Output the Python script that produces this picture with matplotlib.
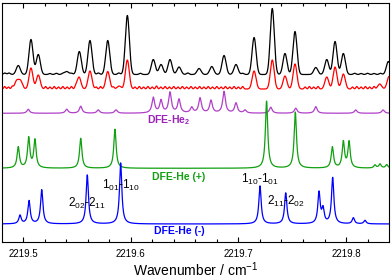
import numpy as np
import matplotlib
matplotlib.use("Agg")
import matplotlib.pyplot as plt
from matplotlib.ticker import MultipleLocator, FormatStrFormatter

plt.rcParams['font.family'] = ['Liberation Sans', 'DejaVu Sans']
plt.rcParams['mathtext.fontset'] = 'custom'
plt.rcParams['mathtext.rm'] = 'Liberation Sans'
plt.rcParams['mathtext.it'] = 'Liberation Sans'
plt.rcParams['mathtext.bf'] = 'Liberation Sans:bold'

# ---------------- data (peak positions in cm-1, heights in a.u.) ----------------
black_pos = [2219.4956, 2219.5074, 2219.5142, 2219.5406, 2219.5523, 2219.5622, 2219.5787,
             2219.5969, 2219.6210, 2219.6282, 2219.6365, 2219.6449, 2219.6635, 2219.6753,
             2219.6867, 2219.6978, 2219.7146, 2219.7315, 2219.7433, 2219.7526, 2219.7719,
             2219.7821, 2219.7898, 2219.7975, 2219.8393]
black_hgt = [9, 35, 20, 3, 23, 34, 34, 59, 15, 10, 15, 7.5, 6, 8, 19, 10, 37,
             66, 21, 43, 7, 15, 33, 21, 13]
black_ripple_pos = [2219.4830, 2219.4870, 2219.5250, 2219.5310, 2219.5370, 2219.5450,
                    2219.5700, 2219.5890, 2219.6090, 2219.6530, 2219.7040, 2219.8080,
                    2219.8140, 2219.8200, 2219.8260, 2219.8320]
black_ripple_hgt = [1.5, 1.5, 1.0, 1.2, 1.0, 1.2, 1.5, 1.5, 1.2, 1.5, 1.2, 1.2, 1.0, 1.2, 1.0, 1.2]

red_pos = [2219.4941, 2219.4977, 2219.5074, 2219.5142, 2219.5520, 2219.5622, 2219.5787,
           2219.5892, 2219.5969, 2219.7146, 2219.7315, 2219.7433, 2219.7526, 2219.7821,
           2219.7898, 2219.7975, 2219.8313, 2219.8399]
red_hgt = [8, 8, 21, 14, 12, 18, 17.5, 3, 29, 18, 29, 13, 25, 12, 22, 15, 5, 12.5]
red_ripple_pos = [2219.4830, 2219.4865, 2219.4900, 2219.5210, 2219.5250, 2219.5290,
                  2219.5330, 2219.5370, 2219.5410, 2219.5450, 2219.5490, 2219.5680,
                  2219.5720, 2219.5840, 2219.6040, 2219.6080, 2219.6120, 2219.6160,
                  2219.6200, 2219.6240, 2219.6280, 2219.6320, 2219.6360, 2219.6400,
                  2219.6440, 2219.6480, 2219.6520, 2219.6560, 2219.6600, 2219.6640,
                  2219.6680, 2219.6720, 2219.6760, 2219.6800, 2219.6840, 2219.6880,
                  2219.6920, 2219.6960, 2219.7000, 2219.7040, 2219.7620, 2219.7660,
                  2219.7700, 2219.7740, 2219.8060, 2219.8100, 2219.8140, 2219.8180,
                  2219.8220, 2219.8260]
red_ripple_hgt = [2.5, 2.0, 2.5, 2.5, 2.0, 2.5, 2.0, 2.5, 2.0, 2.5, 2.0, 2.0, 2.5, 2.0,
                  2.0, 2.5, 2.0, 2.5, 2.0, 3.0, 2.0, 2.5, 2.0, 2.5, 2.0, 2.5, 2.0, 2.5,
                  2.0, 2.5, 2.0, 2.5, 2.0, 2.5, 2.0, 2.5, 2.0, 2.5, 2.0, 2.5, 2.0, 2.5,
                  2.0, 2.5, 2.0, 2.5, 2.0, 2.5, 2.0, 2.5]

he2_pos = [2219.5049, 2219.5406, 2219.5536, 2219.5699, 2219.5864, 2219.6210, 2219.6282,
           2219.6365, 2219.6449, 2219.6567, 2219.6644, 2219.6746, 2219.6867, 2219.6978,
           2219.7062, 2219.7301, 2219.7533, 2219.7719, 2219.8090, 2219.8344]
he2_hgt = [4, 4, 7, 3.3, 3.3, 15.5, 12.5, 20.5, 13.5, 5.5, 15, 12.5, 21.5, 10, 3, 6, 5,
           6.6, 3.3, 3.3]

plus_pos = [2219.4956, 2219.5053, 2219.5111, 2219.5536, 2219.5854, 2219.7262, 2219.7529,
            2219.7873, 2219.7975, 2219.8028, 2219.8269, 2219.8316, 2219.8378]
plus_hgt = [21, 30, 28, 30, 39, 67, 56, 21, 26, 26, 3, 4, 3.5]

minus_pos = [2219.4972, 2219.5056, 2219.5174, 2219.5597, 2219.5907, 2219.7201, 2219.7440,
             2219.7749, 2219.7786, 2219.7876, 2219.8068, 2219.8176]
minus_hgt = [8.5, 23, 34, 49, 61, 38, 31, 31, 14, 46, 6, 3.5]

x_ticks = [2219.5, 2219.6, 2219.7, 2219.8]
x_min, x_max = 2219.4805, 2219.8399

# ---------------- line shapes ----------------
x = np.linspace(x_min, x_max, 4000)

def lorentz(pos, hgt, fwhm):
    y = np.zeros_like(x)
    g = fwhm / 2
    for p, h in zip(pos, hgt):
        y += h * g**2 / ((x - p)**2 + g**2)
    return y

def gauss(pos, hgt, fwhm):
    y = np.zeros_like(x)
    s = fwhm / 2.3548
    for p, h in zip(pos, hgt):
        y += h * np.exp(-0.5 * ((x - p) / s)**2)
    return y

black = gauss(black_pos, black_hgt, 0.0044) + gauss(black_ripple_pos, black_ripple_hgt, 0.0028)
red = gauss(red_pos, red_hgt, 0.0042) + gauss(red_ripple_pos, red_ripple_hgt, 0.0020)
he2 = lorentz(he2_pos, he2_hgt, 0.0030)
plus = lorentz(plus_pos, plus_hgt, 0.0026)
minus = lorentz(minus_pos, minus_hgt, 0.0026)

# ---------------- figure ----------------
fig = plt.figure(figsize=(3.91, 2.79), dpi=100)
ax = fig.add_axes([2/391, 37/279, 387/391, 239/279])

lw = 0.9
ax.plot(x, black + 167.5, color='black', lw=lw)
ax.plot(x, red + 153.0, color='#ff0000', lw=lw)
ax.plot(x, he2 + 128.7, color='#b040c8', lw=lw)
ax.plot(x, plus + 73.7, color='#10a010', lw=lw)
ax.plot(x, minus + 18.0, color='#0000ff', lw=lw)

ax.set_xlim(x_min, x_max)
ax.set_ylim(0, 239)

ax.text(2219.6355, 122, 'DFE-He$_\\mathbf{2}$', color='#9a22b8', fontsize=7.5,
        fontweight='bold', ha='center', va='center')
ax.text(2219.6445, 65, 'DFE-He (+)', color='#10a010', fontsize=7.5,
        fontweight='bold', ha='center', va='center')
ax.text(2219.6455, 11, 'DFE-He (-)', color='#0000ff', fontsize=7.5,
        fontweight='bold', ha='center', va='center')

ann_size = 8.5
ax.text(2219.5597, 39, '2$_{02}$-2$_{11}$', fontsize=ann_size, ha='center', va='center')
ax.text(2219.5907, 57, '1$_{01}$-1$_{10}$', fontsize=ann_size, ha='center', va='center')
ax.text(2219.7201, 63, '1$_{10}$-1$_{01}$', fontsize=ann_size, ha='center', va='center')
ax.text(2219.7440, 41, '2$_{11}$-2$_{02}$', fontsize=ann_size, ha='center', va='center')

ax.xaxis.set_major_locator(MultipleLocator(0.1))
ax.xaxis.set_minor_locator(MultipleLocator(0.02))
ax.set_xticks(x_ticks)
ax.xaxis.set_major_formatter(FormatStrFormatter('%.1f'))
ax.tick_params(axis='x', which='both', direction='in', top=True, bottom=True,
               labelsize=7, pad=5, width=0.8)
ax.tick_params(axis='x', which='major', length=3.5)
ax.tick_params(axis='x', which='minor', length=2)
ax.set_yticks([])
for s in ax.spines.values():
    s.set_linewidth(0.8)

ax.set_xlabel('Wavenumber / cm$^{-1}$', fontsize=10, labelpad=1)

fig.savefig('out.png', dpi=100)
